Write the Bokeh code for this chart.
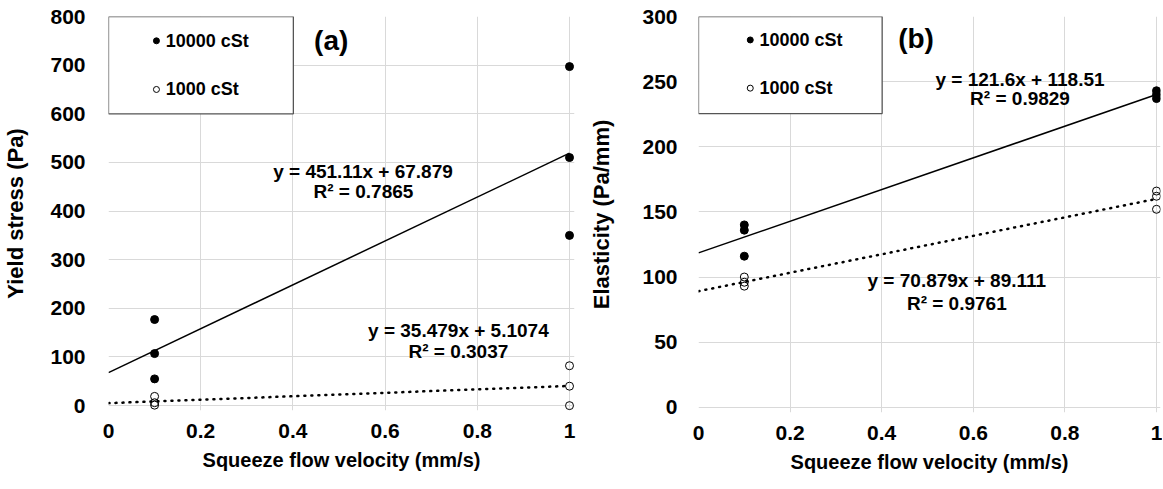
from bokeh.plotting import figure
from bokeh.layouts import row
from bokeh.models import Range1d, FixedTicker, NumeralTickFormatter
from bokeh.core.properties import value
from bokeh.embed import file_html
from bokeh.resources import INLINE

# ---------------- data ----------------
velocity = [0.1, 0.1, 0.1, 1.0, 1.0, 1.0]          # squeeze flow velocity (mm/s)
series_labels = ["10000 cSt", "1000 cSt"]

yield_10000 = [177, 107, 55, 697, 510, 350]        # (a) Yield stress (Pa)
yield_1000 = [19, 6, 1, 82, 40, 0]

elast_10000 = [140, 136, 116, 243, 240, 237]       # (b) Elasticity (Pa/mm)
elast_1000 = [100, 96, 93, 166, 162, 152]

fit_a_10000 = [451.11, 67.879]                     # slope, intercept
fit_a_1000 = [35.479, 5.1074]
fit_b_10000 = [121.6, 118.51]
fit_b_1000 = [70.879, 89.111]

eq_a = ["y = 451.11x + 67.879", "R² = 0.7865", "y = 35.479x + 5.1074", "R² = 0.3037"]
eq_b = ["y = 121.6x + 118.51", "R² = 0.9829", "y = 70.879x + 89.111", "R² = 0.9761"]

x_ticks = [0, 0.2, 0.4, 0.6, 0.8, 1]
y_ticks_a = [0, 100, 200, 300, 400, 500, 600, 700, 800]
y_ticks_b = [0, 50, 100, 150, 200, 250, 300]

FONT = "Liberation Sans Narrow, Arial Narrow, Liberation Sans, sans-serif"
GRID = "#d9d9d9"


def panel(ys_hi, ys_lo, fit_hi, fit_lo, eqs, y_ticks, ymax, ymin_ext, frame_h,
          px_unit, ext_px, title_lbl, y_label, min_left, min_right, min_top,
          eq_pos, tag_pos, leg, ylab_standoff, ytick_standoff):
    fw = px_unit + ext_px
    p = figure(output_backend="svg", toolbar_location=None,
               frame_width=fw, frame_height=frame_h,
               min_border_left=min_left, min_border_right=min_right,
               min_border_top=min_top, min_border_bottom=68,
               x_range=Range1d(0, fw / px_unit), y_range=Range1d(ymin_ext, ymax))
    p.outline_line_color = None
    p.background_fill_color = "white"
    p.border_fill_color = "white"

    for ax in (p.xaxis[0], p.yaxis[0]):
        ax.axis_line_color = None
        ax.major_tick_line_color = None
        ax.minor_tick_line_color = None
        ax.major_label_text_font = FONT
        ax.major_label_text_font_style = "bold"
        ax.major_label_text_font_size = "21px"
        ax.major_label_text_color = "black"
        ax.axis_label_text_font = FONT
        ax.axis_label_text_font_style = "bold"
        ax.axis_label_text_color = "black"
    p.xaxis.axis_label_text_font_size = "20px"
    p.yaxis.axis_label_text_font_size = "22px"

    p.xaxis.ticker = FixedTicker(ticks=x_ticks)
    p.xaxis.formatter = NumeralTickFormatter(format="0.[0]")
    p.yaxis.ticker = FixedTicker(ticks=y_ticks)
    p.xaxis.axis_label = "Squeeze flow velocity (mm/s)"
    p.yaxis.axis_label = y_label
    p.xaxis.major_label_standoff = 7
    p.xaxis.axis_label_standoff = 8
    p.yaxis.major_label_standoff = ytick_standoff
    p.yaxis.axis_label_standoff = ylab_standoff

    p.xgrid.ticker = FixedTicker(ticks=x_ticks)
    p.ygrid.ticker = FixedTicker(ticks=y_ticks)
    p.xgrid.grid_line_color = GRID
    p.ygrid.grid_line_color = GRID

    # data points
    p.scatter(velocity, ys_hi, size=8, marker="circle",
              fill_color="black", line_color="black")
    p.scatter(velocity, ys_lo, size=8, marker="circle",
              fill_color=None, line_color="black", line_width=1)

    # trendlines
    xs = [0, 1]
    p.line(xs, [fit_hi[0] * x + fit_hi[1] for x in xs], line_color="black", line_width=1.5)
    p.line(xs, [fit_lo[0] * x + fit_lo[1] for x in xs], line_color="black",
           line_width=2.5, line_dash="1 6", line_cap="round")

    # equations
    for txt, (tx, ty) in zip(eqs, eq_pos):
        p.text(x=[tx], y=[ty], text=[txt], text_align="center", text_baseline="middle",
               text_font=value(FONT), text_font_style="bold", text_font_size="19px",
               text_color="black")

    # panel tag
    p.text(x=[tag_pos[0]], y=[tag_pos[1]], text=[title_lbl], text_align="center",
           text_baseline="middle", text_font=value(FONT), text_font_style="bold",
           text_font_size="28px", text_color="black")

    # legend box
    bx0, bx1, by0, by1, dot_x, txt_x, ys_leg = leg
    p.quad(left=[bx0], right=[bx1], bottom=[by0], top=[by1], fill_color="white",
           line_color="#555555", line_width=1.3)
    p.scatter([dot_x], [ys_leg[0]], size=6, marker="circle", fill_color="black", line_color="black")
    p.scatter([dot_x], [ys_leg[1]], size=6, marker="circle", fill_color="white", line_color="black")
    for lbl, ly in zip(series_labels, ys_leg):
        p.text(x=[txt_x], y=[ly], text=[lbl], text_align="left", text_baseline="middle",
               text_font=value(FONT), text_font_style="bold", text_font_size="18px",
               text_color="black")
    return p


pa = panel(yield_10000, yield_1000, fit_a_10000, fit_a_1000, eq_a, y_ticks_a,
           800, -10, 394, 461, 5, "(a)", "Yield stress (Pa)", 101, 12, 16,
           [(0.552, 482), (0.553, 440), (0.759, 154), (0.759, 112)], (0.483, 750),
           (0, 0.401, 600, 800, 0.104, 0.124, [750, 650]), 19, 17)

pb = panel(elast_10000, elast_1000, fit_b_10000, fit_b_1000, eq_b, y_ticks_b,
           300, -4, 396, 458, 4, "(b)", "Elasticity (Pa/mm)", 109, 2, 14,
           [(0.702, 252), (0.702, 237), (0.564, 97), (0.564, 80)], (0.475, 283),
           (0, 0.401, 225.5, 300, 0.113, 0.133, [282, 245]), 25, 15)

layout = row(pa, pb)
open("out.html", "w").write(file_html(layout, INLINE))
